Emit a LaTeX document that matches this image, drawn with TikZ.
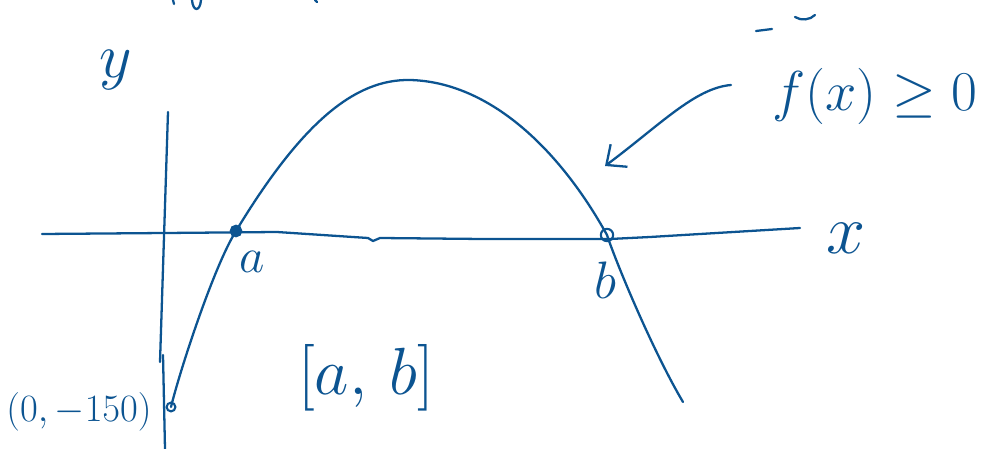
\documentclass[tikz,border=0pt]{standalone}
\usepackage{fix-cm}
\usepackage{tikz}
\usetikzlibrary{arrows.meta}
\usepackage{xcolor}
\definecolor{ink}{RGB}{12,84,145}

\begin{document}
\begin{tikzpicture}[x={(0.02cm,0)},y={(0,-0.02cm)}]
\tikzset{
  PEN/.style={draw=ink,line width=1.3pt,line cap=round,line join=round},
  LB/.style={text=ink,inner sep=0pt,font=\fontsize{26}{30}\selectfont},
  PT/.style={circle,draw=ink,line width=1.2pt,inner sep=0pt,minimum size=7pt},
  PA/.style={-{Straight Barb[length=9pt,width=16pt,line width=1.3pt]},PEN},
}
\useasboundingbox (0,0) rectangle (987,449);

% axes
\coordinate (xl) at (42,234);
\coordinate (xr) at (800,228);
\draw[PEN] (xl) -- (165,233) -- (277,232) -- (368,238) -- (373,241) -- (380,238)
  -- (483,239) -- (610,239) -- (650,237) -- (xr);
\coordinate (yt) at (168,112);
\coordinate (yb) at (165,449);
\draw[PEN] (yt) -- (160,362);
\draw[PEN] (163,355) -- (yb);

% the curve
\coordinate (pa) at (236,231);
\coordinate (pb) at (607,235);
\coordinate (p0) at (171,407);
\coordinate (top) at (410,80);
\coordinate (pend) at (683,402);
\draw[PEN] (p0) .. controls (180,370) and (214,266) .. (pa)
  .. controls (302,122) and (355,79) .. (top)
  .. controls (490,82) and (560,150) .. (pb)
  .. controls (618,268) and (655,355) .. (pend);

% marked points
\node[PT,fill=ink,minimum size=6pt] (na) at (pa) {};
\node[PT] (nb) at (pb) {};
\node[PT,minimum size=5pt] (n0) at (p0) {};

% labels
\node[LB,font=\fontsize{36}{40}\selectfont] (ly) at (116,70) {$y$};
\node[LB,font=\fontsize{40}{44}\selectfont] (lx) at (846,238) {$x$};
\node[LB,font=\fontsize{28}{32}\selectfont] (la) at (252,262) {$a$};
\node[LB,font=\fontsize{30}{34}\selectfont] (lb) at (605,280) {$b$};
\node[LB,anchor=east,font=\fontsize{22}{26}\selectfont] (l0) at (152,412) {$(0,-150)$};
\node[LB,font=\fontsize{38}{42}\selectfont] (lab) at (366,378) {$[a,\,b]$};
\node[LB,anchor=west,font=\fontsize{32}{36}\selectfont] (lf) at (772,96) {$f(x)\geq 0$};

% pointer
\coordinate (tail) at (731,85);
\coordinate (tip) at (605,166);
\draw[PA] (tail) .. controls (695,88) and (660,125) .. (tip);

% stray strokes
\draw[PEN] (173,0) -- (174,4);
\draw[PEN] (192,0) .. controls (193,12) and (200,12) .. (201,0);
\draw[PEN] (315,0) -- (317,2);
\draw[PEN] (756,31) -- (772,29);
\draw[PEN] (795,17) .. controls (801,21) and (810,20) .. (815,15);
\end{tikzpicture}
\end{document}
